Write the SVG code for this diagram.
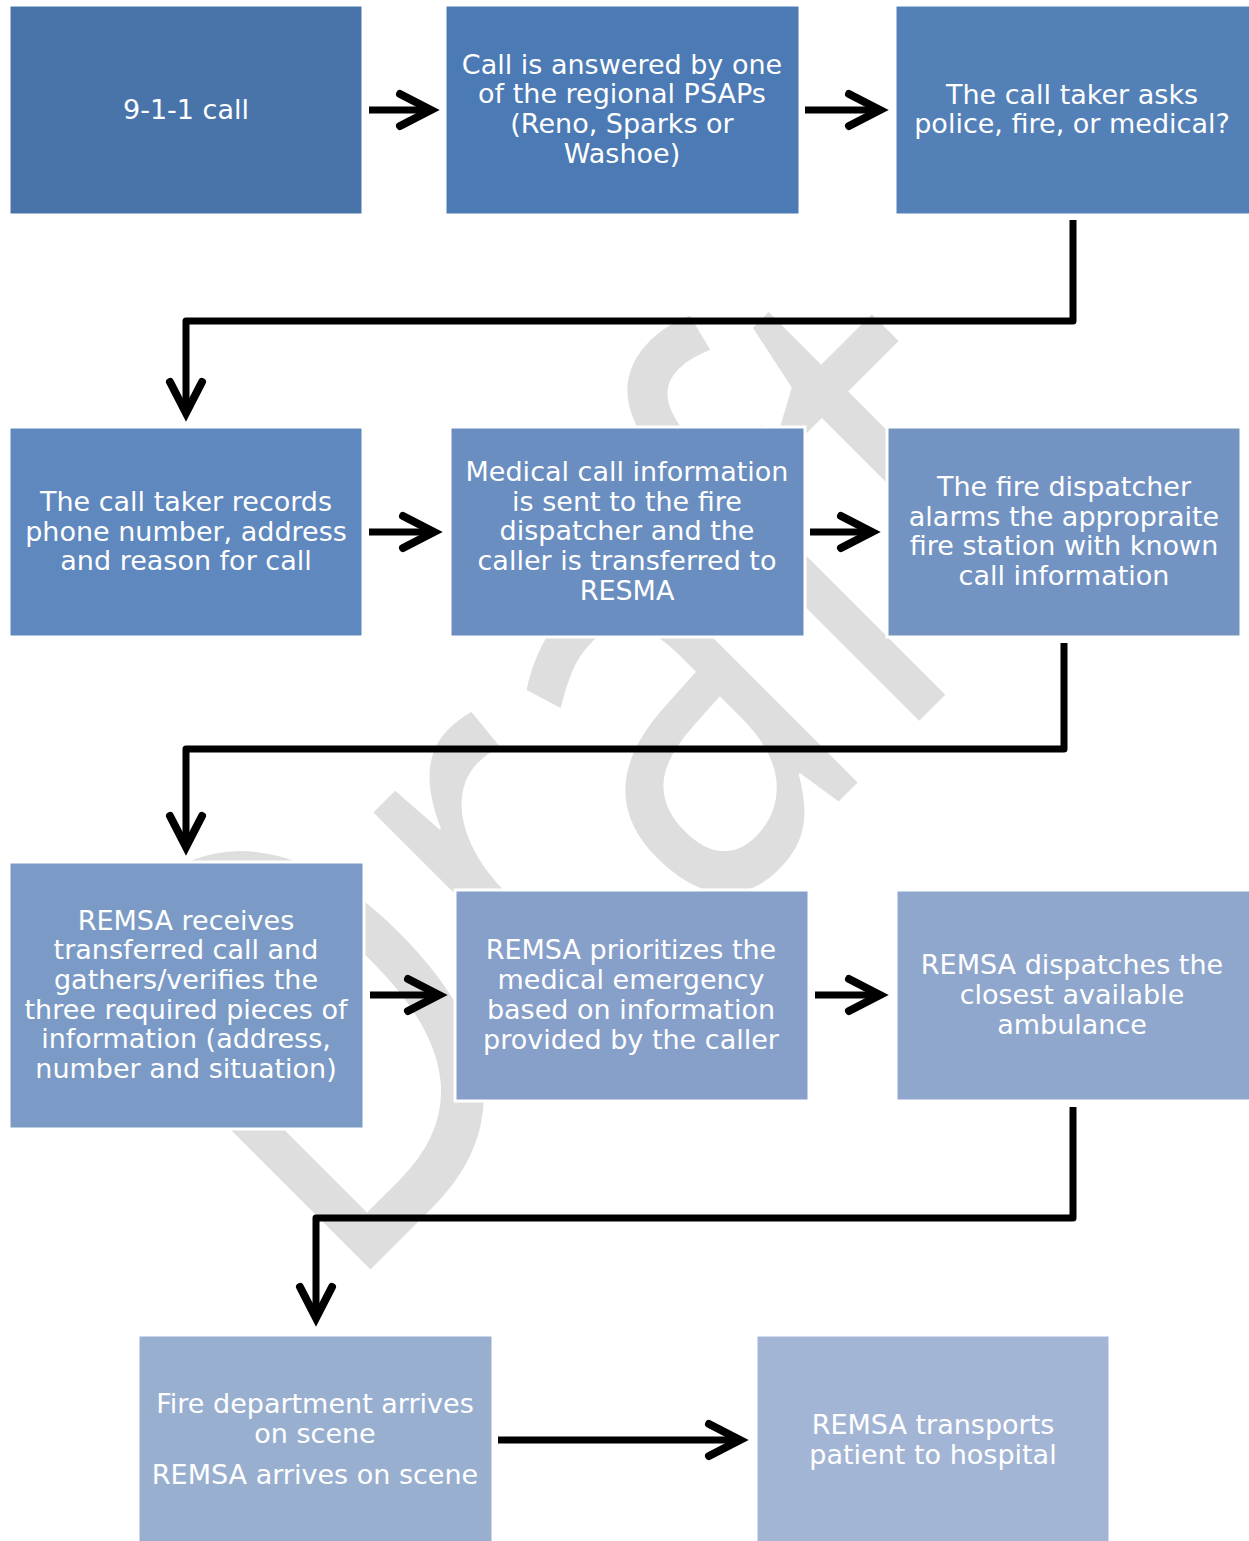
<svg xmlns="http://www.w3.org/2000/svg" width="1249" height="1541" viewBox="0 0 1249 1541">
<style>
.box{stroke:#ffffff;stroke-width:3}
.lbl{font-family:"DejaVu Sans",Verdana,sans-serif;font-size:27px;fill:#ffffff;text-anchor:middle}
.conn{fill:none;stroke:#000000;stroke-width:7;stroke-linejoin:round;marker-end:url(#head)}
.wm{font-family:"Open Sans","Liberation Sans",sans-serif;font-size:600px;fill:#dedede}
</style>
<defs>
<marker id="head" markerUnits="userSpaceOnUse" viewBox="-40 -25 50 50" markerWidth="50" markerHeight="50" refX="0" refY="0" orient="auto" overflow="visible">
<path d="M-31,-16 L0,0 L-31,16" fill="none" stroke="#000" stroke-width="8" stroke-linecap="round" stroke-linejoin="miter"/>
</marker>
</defs>
<rect width="1249" height="1541" fill="#ffffff"/>
<g id="watermark">
<text class="wm" transform="translate(339,1301) rotate(-45) scale(0.76,1)" x="0" y="0">Draft</text>
</g>
<g id="connectors">
<path class="conn" d="M369,110 H431"/>
<path class="conn" d="M805,110 H880"/>
<path class="conn" d="M369,532 H434"/>
<path class="conn" d="M810,532 H872"/>
<path class="conn" d="M370,995 H439"/>
<path class="conn" d="M815,995 H880"/>
<path class="conn" d="M498,1440 H740"/>
<path class="conn" d="M1073,220 V321 H186 V413"/>
<path class="conn" d="M1064,643 V749 H186 V847"/>
<path class="conn" d="M1073,1107 V1218 H316 V1318"/>
</g>
<g id="n1"><rect class="box" x="9" y="5" width="354" height="210" fill="#4874aa"/>
<text class="lbl" x="186" y="119">9-1-1 call</text></g>
<g id="n2"><rect class="box" x="445" y="5" width="355" height="210" fill="#4c7ab4"/>
<text class="lbl" x="622" y="74">Call is answered by one</text>
<text class="lbl" x="622" y="103">of the regional PSAPs</text>
<text class="lbl" x="622" y="133">(Reno, Sparks or</text>
<text class="lbl" x="622" y="163">Washoe)</text></g>
<g id="n3"><rect class="box" x="895" y="5" width="356" height="210" fill="#5480b8"/>
<text class="lbl" x="1072" y="104">The call taker asks</text>
<text class="lbl" x="1072" y="133">police, fire, or medical?</text></g>
<g id="n4"><rect class="box" x="9" y="427" width="354" height="210" fill="#5f88be"/>
<text class="lbl" x="186" y="511">The call taker records</text>
<text class="lbl" x="186" y="541">phone number, address</text>
<text class="lbl" x="186" y="570">and reason for call</text></g>
<g id="n5"><rect class="box" x="450" y="427" width="355" height="210" fill="#6a8ec0"/>
<text class="lbl" x="627" y="481">Medical call information</text>
<text class="lbl" x="627" y="511">is sent to the fire</text>
<text class="lbl" x="627" y="540">dispatcher and the</text>
<text class="lbl" x="627" y="570">caller is transferred to</text>
<text class="lbl" x="627" y="600">RESMA</text></g>
<g id="n6"><rect class="box" x="887" y="427" width="354" height="210" fill="#7393c3"/>
<text class="lbl" x="1064" y="496">The fire dispatcher</text>
<text class="lbl" x="1064" y="526">alarms the appropraite</text>
<text class="lbl" x="1064" y="555">fire station with known</text>
<text class="lbl" x="1064" y="585">call information</text></g>
<g id="n7"><rect class="box" x="9" y="862" width="355" height="267" fill="#7b9bc6"/>
<text class="lbl" x="186" y="930">REMSA receives</text>
<text class="lbl" x="186" y="959">transferred call and</text>
<text class="lbl" x="186" y="989">gathers/verifies the</text>
<text class="lbl" x="186" y="1019">three required pieces of</text>
<text class="lbl" x="186" y="1048">information (address,</text>
<text class="lbl" x="186" y="1078">number and situation)</text></g>
<g id="n8"><rect class="box" x="455" y="890" width="354" height="211" fill="#87a0ca"/>
<text class="lbl" x="631" y="959">REMSA prioritizes the</text>
<text class="lbl" x="631" y="989">medical emergency</text>
<text class="lbl" x="631" y="1019">based on information</text>
<text class="lbl" x="631" y="1049">provided by the caller</text></g>
<g id="n9"><rect class="box" x="896" y="890" width="355" height="211" fill="#8fa7cd"/>
<text class="lbl" x="1072" y="974">REMSA dispatches the</text>
<text class="lbl" x="1072" y="1004">closest available</text>
<text class="lbl" x="1072" y="1034">ambulance</text></g>
<g id="n10"><rect class="box" x="138" y="1335" width="355" height="208" fill="#99afd0"/>
<text class="lbl" x="315" y="1413">Fire department arrives</text>
<text class="lbl" x="315" y="1443">on scene</text>
<text class="lbl" x="315" y="1484">REMSA arrives on scene</text></g>
<g id="n11"><rect class="box" x="756" y="1335" width="354" height="208" fill="#a3b5d5"/>
<text class="lbl" x="933" y="1434">REMSA transports</text>
<text class="lbl" x="933" y="1464">patient to hospital</text></g>
</svg>
